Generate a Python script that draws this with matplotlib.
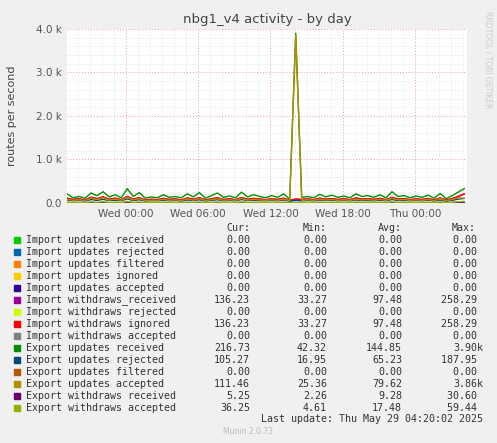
import numpy as np
import matplotlib
matplotlib.use("Agg")
import matplotlib.pyplot as plt
from matplotlib.ticker import MultipleLocator, FuncFormatter

# hours relative to Wed 00:00, one sample per half hour
t_start = -4.9
hours = t_start + 0.5 * np.arange(67)

export_received = [210, 120, 150, 110, 230, 170, 260, 140, 190, 120, 330, 150, 240, 110, 140, 120, 190, 130, 150, 120,
                   210, 140, 240, 110, 170, 230, 130, 160, 120, 250, 140, 190, 150, 120, 170, 130, 210, 90, 3900, 130,
                   150, 120, 200, 140, 180, 130, 160, 120, 210, 150, 170, 130, 190, 120, 260, 150, 170, 120, 160, 130,
                   180, 110, 220, 100, 170, 250, 330]
withdraws_ignored = [110, 80, 95, 70, 130, 100, 140, 85, 110, 75, 150, 90, 120, 70, 85, 75, 105, 80, 95, 70,
                     115, 85, 120, 70, 95, 120, 80, 95, 75, 125, 85, 105, 90, 75, 95, 80, 110, 60, 90, 80,
                     95, 75, 110, 85, 100, 80, 95, 75, 115, 90, 100, 80, 105, 75, 130, 90, 100, 75, 95, 80,
                     100, 70, 115, 65, 100, 150, 210]
export_rejected = [70, 50, 60, 45, 80, 60, 85, 55, 65, 50, 95, 55, 75, 45, 55, 50, 65, 50, 60, 45,
                   70, 55, 75, 45, 60, 75, 50, 60, 50, 80, 55, 65, 55, 50, 60, 50, 70, 40, 60, 50,
                   60, 50, 70, 55, 65, 50, 60, 50, 70, 55, 60, 50, 65, 50, 80, 55, 60, 50, 60, 50,
                   65, 45, 70, 40, 60, 90, 105]
export_accepted = [90, 60, 75, 55, 110, 80, 120, 65, 90, 60, 130, 70, 100, 55, 65, 60, 85, 60, 75, 55,
                   95, 65, 100, 55, 75, 100, 60, 75, 60, 105, 65, 85, 70, 60, 75, 60, 90, 50, 3860, 60,
                   75, 60, 90, 65, 80, 60, 75, 60, 90, 70, 80, 60, 85, 60, 110, 70, 80, 60, 75, 60,
                   80, 55, 95, 50, 80, 120, 110]
export_wd_accepted = [20, 12, 15, 10, 25, 15, 30, 12, 18, 10, 35, 14, 22, 10, 14, 12, 18, 12, 15, 10,
                      20, 14, 22, 10, 16, 22, 12, 15, 12, 24, 14, 18, 15, 12, 16, 12, 20, 8, 15, 12,
                      15, 12, 20, 14, 18, 12, 15, 12, 20, 15, 17, 12, 18, 12, 25, 15, 17, 12, 16, 12,
                      18, 10, 22, 8, 18, 30, 36]
export_wd_received = [8, 5, 7, 4, 12, 7, 14, 5, 9, 4, 18, 6, 11, 4, 6, 5, 9, 5, 7, 4,
                      10, 6, 11, 4, 8, 11, 5, 7, 5, 12, 6, 9, 7, 5, 8, 5, 10, 3, 7, 5,
                      7, 5, 10, 6, 9, 5, 7, 5, 10, 7, 8, 5, 9, 5, 12, 7, 8, 5, 8, 5,
                      9, 4, 11, 3, 9, 14, 5]

legend_names = ["Import updates received", "Import updates rejected", "Import updates filtered",
                "Import updates ignored", "Import updates accepted", "Import withdraws_received",
                "Import withdraws rejected", "Import withdraws ignored", "Import withdraws accepted",
                "Export updates received", "Export updates rejected", "Export updates filtered",
                "Export updates accepted", "Export withdraws received", "Export withdraws accepted"]
legend_colors = ["#00cc00", "#0066b3", "#ff8000", "#ffcc00", "#330099", "#990099", "#ccff00",
                 "#ff0000", "#808080", "#008f00", "#00487d", "#b35a00", "#b38f00", "#6b006b", "#8fb300"]
cur = ["0.00", "0.00", "0.00", "0.00", "0.00", "136.23", "0.00", "136.23", "0.00",
       "216.73", "105.27", "0.00", "111.46", "5.25", "36.25"]
mins = ["0.00", "0.00", "0.00", "0.00", "0.00", "33.27", "0.00", "33.27", "0.00",
        "42.32", "16.95", "0.00", "25.36", "2.26", "4.61"]
avgs = ["0.00", "0.00", "0.00", "0.00", "0.00", "97.48", "0.00", "97.48", "0.00",
        "144.85", "65.23", "0.00", "79.62", "9.28", "17.48"]
maxs = ["0.00", "0.00", "0.00", "0.00", "0.00", "258.29", "0.00", "258.29", "0.00",
        "3.90k", "187.95", "0.00", "3.86k", "30.60", "59.44"]

W, H = 497, 443
fig = plt.figure(figsize=(W / 100, H / 100), dpi=100, facecolor="#f0f0f0")
ax = fig.add_axes([67 / W, (H - 203) / H, 400 / W, 174 / H])
ax.set_facecolor("white")

zeros = np.zeros(len(hours))
for c in ["#00cc00", "#0066b3", "#ff8000", "#ffcc00", "#330099", "#ccff00", "#808080", "#b35a00"]:
    ax.plot(hours, zeros, color=c, lw=1)
ax.plot(hours, export_received, color="#008f00", lw=1)
ax.plot(hours, withdraws_ignored, color="#990099", lw=1)
ax.plot(hours, withdraws_ignored, color="#ff0000", lw=1)
ax.plot(hours, export_rejected, color="#00487d", lw=1)
ax.plot(hours, export_accepted, color="#b38f00", lw=1)
ax.plot(hours, export_wd_received, color="#6b006b", lw=1)
ax.plot(hours, export_wd_accepted, color="#8fb300", lw=1)

ax.set_xlim(t_start, 28.33)
ax.set_ylim(0, 4000)
ax.xaxis.set_major_locator(MultipleLocator(6))
ax.xaxis.set_minor_locator(MultipleLocator(1))
ax.yaxis.set_major_locator(MultipleLocator(1000))
ax.yaxis.set_minor_locator(MultipleLocator(200))
day_names = {0: "Wed", 1: "Thu"}
ax.xaxis.set_major_formatter(FuncFormatter(lambda v, p: f"{day_names.get(int(v // 24), '')} {int(v % 24):02d}:00"))
ax.yaxis.set_major_formatter(FuncFormatter(lambda v, p: "0.0" if v == 0 else f"{v / 1000:.1f} k"))
ax.grid(which="minor", color="#dddddd", ls=(0, (1, 2)), lw=0.6)
ax.grid(which="major", color="#e8a0a0", ls=(0, (1, 2)), lw=0.7)
ax.set_axisbelow(True)
for s in ax.spines.values():
    s.set_visible(False)
ax.tick_params(which="both", length=0, labelsize=7.5, colors="#555555", pad=4)
ax.axhline(0, color="#ccccff", lw=1, zorder=0)

fig.text(267 / W, 1 - 20 / H, "nbg1_v4 activity - by day", ha="center", va="center", fontsize=9.5, color="#444444")
fig.text(12 / W, 1 - 116 / H, "routes per second", rotation=90, ha="center", va="center", fontsize=8, color="#444444")
fig.text(488 / W, 1 - 60 / H, "RRDTOOL / TOBI OETIKER", rotation=270, ha="center", va="center",
         fontsize=5.5, color="#cccccc")

mono = dict(family="DejaVu Sans Mono", fontsize=7.2, color="#333333", va="center")
y0 = 228
fig.text(250 / W, 1 - y0 / H, "Cur:", ha="right", **mono)
fig.text(327 / W, 1 - y0 / H, "Min:", ha="right", **mono)
fig.text(402 / W, 1 - y0 / H, "Max:" if False else "Avg:", ha="right", **mono)
fig.text(476 / W, 1 - y0 / H, "Max:", ha="right", **mono)
for i, name in enumerate(legend_names):
    y = 1 - (y0 + 12 * (i + 1)) / H
    fig.patches.append(plt.Rectangle((14 / W, y - 3 / H), 6 / W, 6 / H, transform=fig.transFigure,
                                     color=legend_colors[i]))
    fig.text(26 / W, y, name, ha="left", **mono)
    fig.text(250 / W, y, cur[i], ha="right", **mono)
    fig.text(327 / W, y, mins[i], ha="right", **mono)
    fig.text(402 / W, y, avgs[i], ha="right", **mono)
    mx = maxs[i] if maxs[i].endswith("k") else maxs[i] + " "
    fig.text(483 / W, y, mx, ha="right", **mono)
fig.text(483 / W, 1 - 419 / H, "Last update: Thu May 29 04:20:02 2025", ha="right", **mono)
fig.text(248 / W, 1 - 432 / H, "Munin 2.0.73", ha="center", va="center", fontsize=5.5, color="#bbbbbb")

fig.savefig("out.png", dpi=100, facecolor=fig.get_facecolor())
